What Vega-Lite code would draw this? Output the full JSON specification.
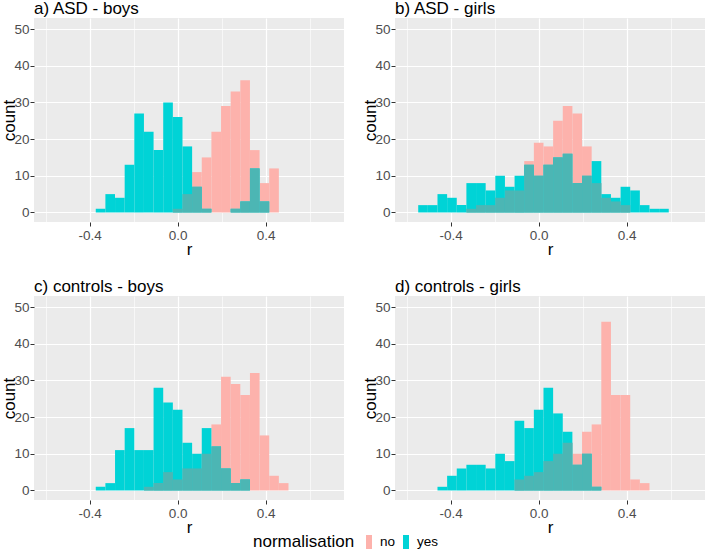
{
  "$schema": "https://vega.github.io/schema/vega-lite/v6.json",
  "padding": {"left": 0, "top": 0, "right": 1, "bottom": 0},
  "background": "white",
  "config": {
    "font": "Liberation Sans",
    "view": {"fill": "#EBEBEB", "stroke": null},
    "legend": {"orient": "none", "legendX": 219, "legendY": 517, "direction": "horizontal", "titleOrient": "left", "titleFontSize": 17, "titleFontWeight": "normal", "titleColor": "black", "titlePadding": 7, "labelFontSize": 13.5, "labelColor": "black", "labelOffset": 4, "columnPadding": 3, "symbolType": "M-0.43,-1H0.43V1H-0.43Z", "symbolSize": 196, "symbolStrokeWidth": 0, "symbolOpacity": 1},
    "axis": {"domain": false, "labelColor": "#4D4D4D", "labelFontSize": 13.5, "titleFontSize": 17, "titleFontWeight": "normal", "titleColor": "black", "tickSize": 4, "gridColor": "white", "labelPadding": 2}
  },
  "data": {"values": [
    {"p":"a) ASD - boys","lo":-0.3723,"hi":-0.3285,"no":0,"yes":1},
    {"p":"a) ASD - boys","lo":-0.3285,"hi":-0.2847,"no":0,"yes":5},
    {"p":"a) ASD - boys","lo":-0.2847,"hi":-0.2409,"no":0,"yes":4},
    {"p":"a) ASD - boys","lo":-0.2409,"hi":-0.1971,"no":0,"yes":13},
    {"p":"a) ASD - boys","lo":-0.1971,"hi":-0.1533,"no":0,"yes":27},
    {"p":"a) ASD - boys","lo":-0.1533,"hi":-0.1095,"no":0,"yes":22},
    {"p":"a) ASD - boys","lo":-0.1095,"hi":-0.0657,"no":0,"yes":17},
    {"p":"a) ASD - boys","lo":-0.0657,"hi":-0.0219,"no":0,"yes":30},
    {"p":"a) ASD - boys","lo":-0.0219,"hi":0.0219,"no":1,"yes":26},
    {"p":"a) ASD - boys","lo":0.0219,"hi":0.0657,"no":5,"yes":18},
    {"p":"a) ASD - boys","lo":0.0657,"hi":0.1095,"no":11,"yes":7},
    {"p":"a) ASD - boys","lo":0.1095,"hi":0.1533,"no":15,"yes":1},
    {"p":"a) ASD - boys","lo":0.1533,"hi":0.1971,"no":22,"yes":0},
    {"p":"a) ASD - boys","lo":0.1971,"hi":0.2409,"no":29,"yes":0},
    {"p":"a) ASD - boys","lo":0.2409,"hi":0.2847,"no":33,"yes":1},
    {"p":"a) ASD - boys","lo":0.2847,"hi":0.3285,"no":36,"yes":3},
    {"p":"a) ASD - boys","lo":0.3285,"hi":0.3723,"no":17,"yes":12},
    {"p":"a) ASD - boys","lo":0.3723,"hi":0.4161,"no":8,"yes":3},
    {"p":"a) ASD - boys","lo":0.4161,"hi":0.4599,"no":12,"yes":0},

    {"p":"b) ASD - girls","lo":-0.5475,"hi":-0.5037,"no":0,"yes":2},
    {"p":"b) ASD - girls","lo":-0.5037,"hi":-0.4599,"no":0,"yes":2},
    {"p":"b) ASD - girls","lo":-0.4599,"hi":-0.4161,"no":0,"yes":5},
    {"p":"b) ASD - girls","lo":-0.4161,"hi":-0.3723,"no":0,"yes":4},
    {"p":"b) ASD - girls","lo":-0.3723,"hi":-0.3285,"no":0,"yes":2},
    {"p":"b) ASD - girls","lo":-0.3285,"hi":-0.2847,"no":1,"yes":8},
    {"p":"b) ASD - girls","lo":-0.2847,"hi":-0.2409,"no":2,"yes":8},
    {"p":"b) ASD - girls","lo":-0.2409,"hi":-0.1971,"no":2,"yes":6},
    {"p":"b) ASD - girls","lo":-0.1971,"hi":-0.1533,"no":4,"yes":10},
    {"p":"b) ASD - girls","lo":-0.1533,"hi":-0.1095,"no":6,"yes":7},
    {"p":"b) ASD - girls","lo":-0.1095,"hi":-0.0657,"no":6,"yes":10},
    {"p":"b) ASD - girls","lo":-0.0657,"hi":-0.0219,"no":14,"yes":13},
    {"p":"b) ASD - girls","lo":-0.0219,"hi":0.0219,"no":19,"yes":10},
    {"p":"b) ASD - girls","lo":0.0219,"hi":0.0657,"no":18,"yes":13},
    {"p":"b) ASD - girls","lo":0.0657,"hi":0.1095,"no":25,"yes":15},
    {"p":"b) ASD - girls","lo":0.1095,"hi":0.1533,"no":29,"yes":16},
    {"p":"b) ASD - girls","lo":0.1533,"hi":0.1971,"no":27,"yes":8},
    {"p":"b) ASD - girls","lo":0.1971,"hi":0.2409,"no":18,"yes":10},
    {"p":"b) ASD - girls","lo":0.2409,"hi":0.2847,"no":8,"yes":14},
    {"p":"b) ASD - girls","lo":0.2847,"hi":0.3285,"no":4,"yes":5},
    {"p":"b) ASD - girls","lo":0.3285,"hi":0.3723,"no":3,"yes":4},
    {"p":"b) ASD - girls","lo":0.3723,"hi":0.4161,"no":2,"yes":7},
    {"p":"b) ASD - girls","lo":0.4161,"hi":0.4599,"no":0,"yes":6},
    {"p":"b) ASD - girls","lo":0.4599,"hi":0.5037,"no":0,"yes":2},
    {"p":"b) ASD - girls","lo":0.5037,"hi":0.5475,"no":0,"yes":1},
    {"p":"b) ASD - girls","lo":0.5475,"hi":0.5913,"no":0,"yes":1},

    {"p":"c) controls - boys","lo":-0.3723,"hi":-0.3285,"no":0,"yes":1},
    {"p":"c) controls - boys","lo":-0.3285,"hi":-0.2847,"no":0,"yes":2},
    {"p":"c) controls - boys","lo":-0.2847,"hi":-0.2409,"no":0,"yes":11},
    {"p":"c) controls - boys","lo":-0.2409,"hi":-0.1971,"no":0,"yes":17},
    {"p":"c) controls - boys","lo":-0.1971,"hi":-0.1533,"no":0,"yes":11},
    {"p":"c) controls - boys","lo":-0.1533,"hi":-0.1095,"no":1,"yes":11},
    {"p":"c) controls - boys","lo":-0.1095,"hi":-0.0657,"no":2,"yes":28},
    {"p":"c) controls - boys","lo":-0.0657,"hi":-0.0219,"no":5,"yes":24},
    {"p":"c) controls - boys","lo":-0.0219,"hi":0.0219,"no":3,"yes":22},
    {"p":"c) controls - boys","lo":0.0219,"hi":0.0657,"no":6,"yes":13},
    {"p":"c) controls - boys","lo":0.0657,"hi":0.1095,"no":6,"yes":10},
    {"p":"c) controls - boys","lo":0.1095,"hi":0.1533,"no":10,"yes":17},
    {"p":"c) controls - boys","lo":0.1533,"hi":0.1971,"no":18,"yes":12},
    {"p":"c) controls - boys","lo":0.1971,"hi":0.2409,"no":31,"yes":6},
    {"p":"c) controls - boys","lo":0.2409,"hi":0.2847,"no":29,"yes":2},
    {"p":"c) controls - boys","lo":0.2847,"hi":0.3285,"no":26,"yes":3},
    {"p":"c) controls - boys","lo":0.3285,"hi":0.3723,"no":32,"yes":0},
    {"p":"c) controls - boys","lo":0.3723,"hi":0.4161,"no":15,"yes":0},
    {"p":"c) controls - boys","lo":0.4161,"hi":0.4599,"no":4,"yes":0},
    {"p":"c) controls - boys","lo":0.4599,"hi":0.5037,"no":2,"yes":0},

    {"p":"d) controls - girls","lo":-0.4599,"hi":-0.4161,"no":0,"yes":1},
    {"p":"d) controls - girls","lo":-0.4161,"hi":-0.3723,"no":0,"yes":4},
    {"p":"d) controls - girls","lo":-0.3723,"hi":-0.3285,"no":0,"yes":6},
    {"p":"d) controls - girls","lo":-0.3285,"hi":-0.2847,"no":0,"yes":7},
    {"p":"d) controls - girls","lo":-0.2847,"hi":-0.2409,"no":0,"yes":7},
    {"p":"d) controls - girls","lo":-0.2409,"hi":-0.1971,"no":0,"yes":6},
    {"p":"d) controls - girls","lo":-0.1971,"hi":-0.1533,"no":0,"yes":10},
    {"p":"d) controls - girls","lo":-0.1533,"hi":-0.1095,"no":0,"yes":8},
    {"p":"d) controls - girls","lo":-0.1095,"hi":-0.0657,"no":3,"yes":19},
    {"p":"d) controls - girls","lo":-0.0657,"hi":-0.0219,"no":4,"yes":17},
    {"p":"d) controls - girls","lo":-0.0219,"hi":0.0219,"no":5,"yes":22},
    {"p":"d) controls - girls","lo":0.0219,"hi":0.0657,"no":8,"yes":28},
    {"p":"d) controls - girls","lo":0.0657,"hi":0.1095,"no":10,"yes":21},
    {"p":"d) controls - girls","lo":0.1095,"hi":0.1533,"no":13,"yes":16},
    {"p":"d) controls - girls","lo":0.1533,"hi":0.1971,"no":10,"yes":7},
    {"p":"d) controls - girls","lo":0.1971,"hi":0.2409,"no":16,"yes":10},
    {"p":"d) controls - girls","lo":0.2409,"hi":0.2847,"no":18,"yes":1},
    {"p":"d) controls - girls","lo":0.2847,"hi":0.3285,"no":46,"yes":0},
    {"p":"d) controls - girls","lo":0.3285,"hi":0.3723,"no":26,"yes":0},
    {"p":"d) controls - girls","lo":0.3723,"hi":0.4161,"no":26,"yes":0},
    {"p":"d) controls - girls","lo":0.4161,"hi":0.4599,"no":3,"yes":0},
    {"p":"d) controls - girls","lo":0.4599,"hi":0.5037,"no":2,"yes":0}
  ]},
  "facet": {"field": "p", "type": "nominal", "title": null,
    "header": {"labelFontSize": 17, "labelColor": "black", "labelAnchor": "start", "labelAlign": "left", "labelPadding": 0, "labelFont": "Liberation Sans"}},
  "columns": 2,
  "spacing": {"row": 20, "column": 17},
  "resolve": {"axis": {"x": "independent", "y": "independent"}},
  "spec": {
    "width": 310,
    "height": 204,
    "encoding": {
      "x": {"field": "lo", "type": "quantitative", "title": "r",
        "scale": {"domain": [-0.653, 0.756], "nice": false, "zero": false},
        "axis": {"values": [-0.6, -0.4, -0.2, 0, 0.2, 0.4, 0.6], "format": ".1f",
          "labelExpr": "abs(round(datum.value*10)) % 4 == 0 ? replace(datum.label, '\u2212', '-') : ''",
          "gridWidth": {"condition": {"test": "abs(round(datum.value*10)) % 4 == 0", "value": 1.2}, "value": 0.6},
          "tickColor": {"condition": {"test": "abs(round(datum.value*10)) % 4 == 0", "value": "#333333"}, "value": "transparent"},
          "titlePadding": 0}},
      "x2": {"field": "hi"}
    },
    "layer": [
      {"mark": {"type": "bar"},
       "encoding": {
         "y": {"field": "no", "type": "quantitative", "title": "count",
           "scale": {"domain": [-2.6, 53], "nice": false, "zero": false},
           "axis": {"values": [0, 5, 10, 15, 20, 25, 30, 35, 40, 45, 50],
             "labelExpr": "datum.value % 10 == 0 ? datum.label : ''",
             "gridWidth": {"condition": {"test": "datum.value % 10 == 0", "value": 1.2}, "value": 0.6},
             "tickColor": {"condition": {"test": "datum.value % 10 == 0", "value": "#333333"}, "value": "transparent"},
             "labelPadding": 1,
             "titlePadding": -5}},
         "y2": {"datum": 0},
         "color": {"datum": "no", "type": "nominal", "title": "normalisation",
           "scale": {"domain": ["no", "yes"], "range": ["#FDB2AC", "#00D3D6"]}}
       }},
      {"mark": {"type": "bar"},
       "encoding": {
         "y": {"field": "yes", "type": "quantitative", "title": "count"},
         "y2": {"datum": 0},
         "color": {"datum": "yes", "type": "nominal", "title": "normalisation"}
       }},
      {"transform": [
         {"fold": ["no", "yes"], "as": ["g", "v"]},
         {"aggregate": [{"op": "min", "field": "v", "as": "m"}], "groupby": ["p", "lo", "hi"]}
       ],
       "mark": {"type": "bar", "color": "#4CB6B4"},
       "encoding": {
         "y": {"field": "m", "type": "quantitative", "title": "count"},
         "y2": {"datum": 0}
       }}
    ]
  }
}
